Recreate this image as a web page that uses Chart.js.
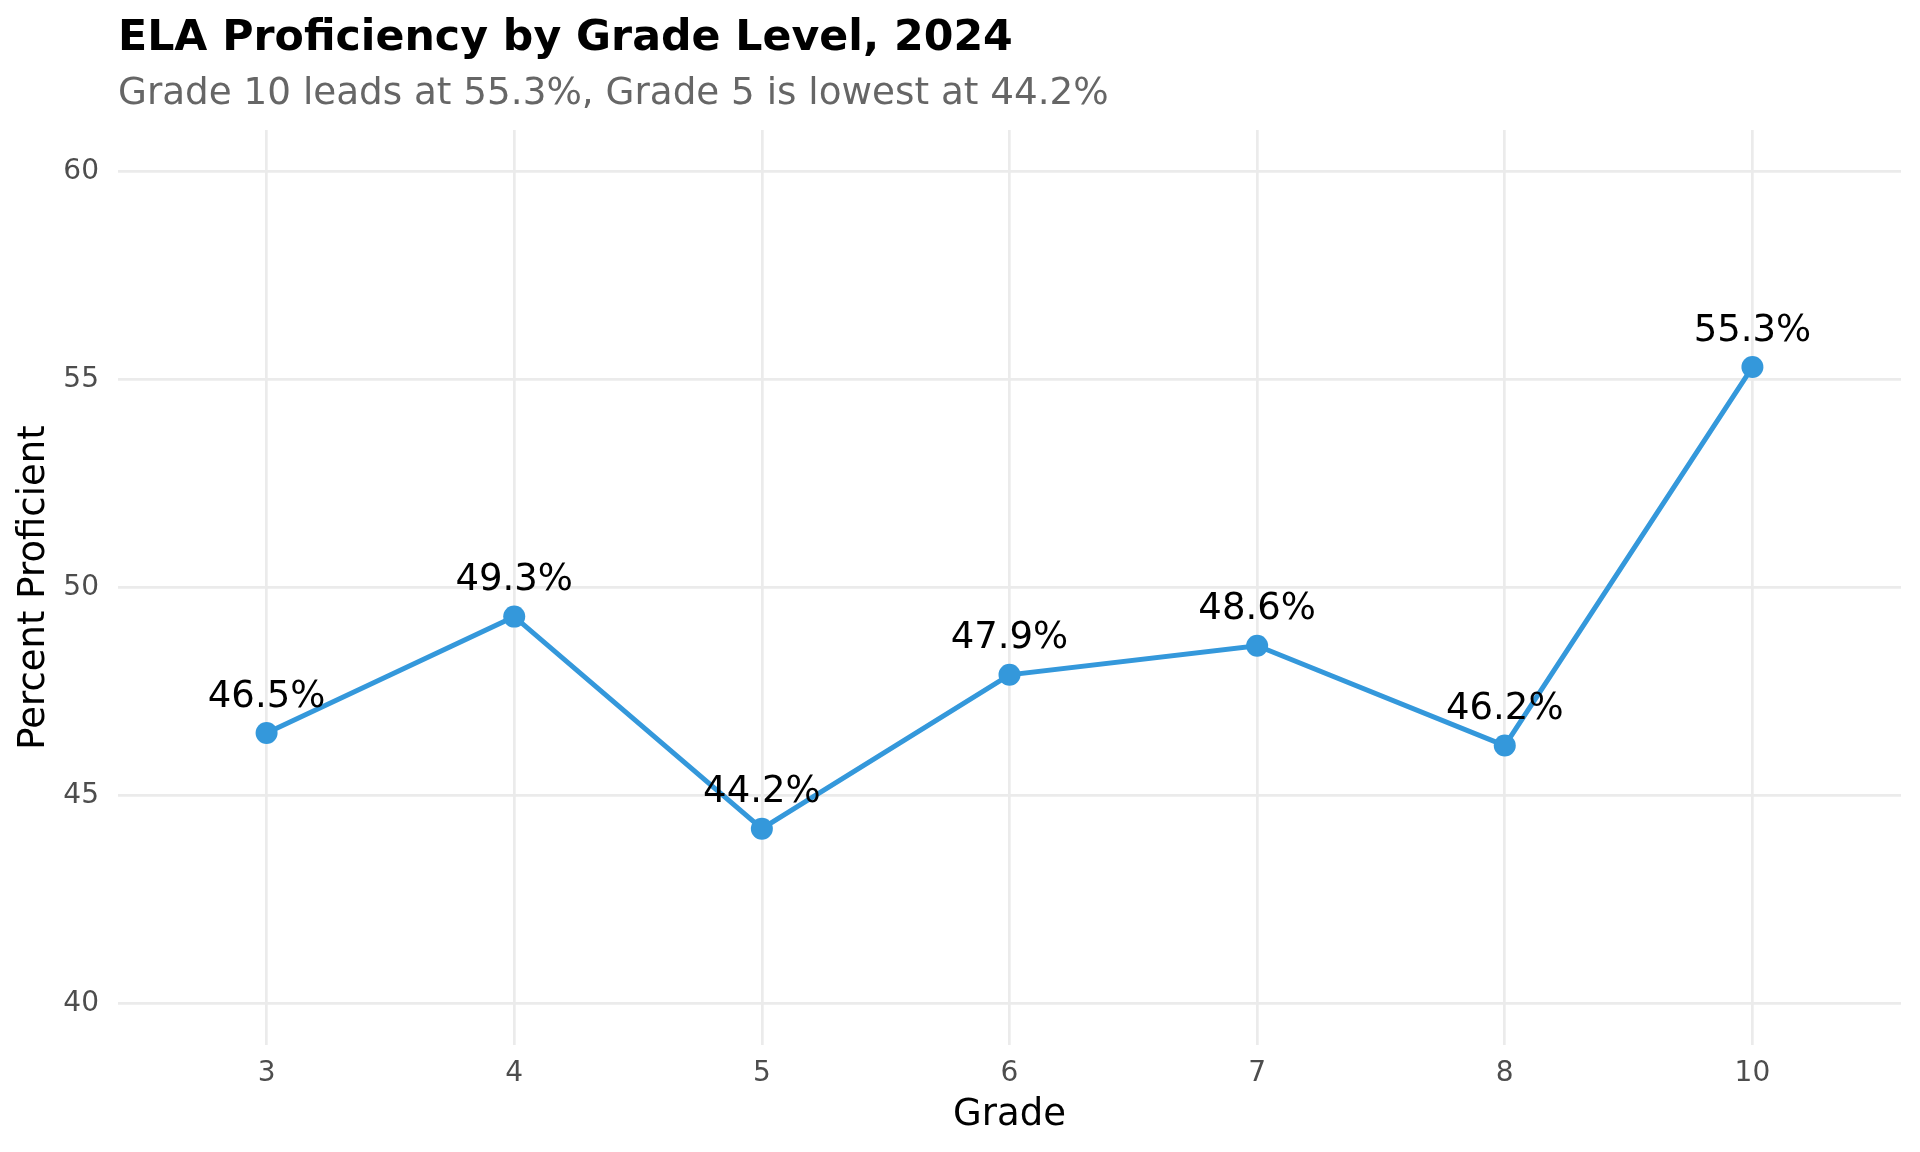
<!DOCTYPE html>
<html>
<head>
<meta charset="utf-8">
<title>ELA Proficiency by Grade Level, 2024</title>
<script src="https://cdn.jsdelivr.net/npm/chart.js@4.4.1/dist/chart.umd.min.js"></script>
<style>
  html, body { margin: 0; padding: 0; background: #ffffff; }
  #chart { display: block; }
</style>
</head>
<body>
<canvas id="chart" width="1920" height="1152"></canvas>
<script>
// data
var grades = ['3', '4', '5', '6', '7', '8', '10'];
var proficiency = [46.5, 49.3, 44.2, 47.9, 48.6, 46.2, 55.3];
var y_ticks = [40, 45, 50, 55, 60];

var font_family = "'DejaVu Sans', 'Liberation Sans', sans-serif";
var line_color = '#3498db';
var grid_color = '#ebebeb';

// points on a linear x scale so the side padding can be 0.6 of a step
var points = [];
for (var i in proficiency) {
    points.push({ x: Number(i), y: proficiency[i] });
}

// value labels above each point
var point_labels = {
    id: 'point_labels',
    afterDatasetsDraw: function (chart) {
        var ctx = chart.ctx;
        var meta = chart.getDatasetMeta(0);
        ctx.save();
        ctx.font = '37px ' + font_family;
        ctx.fillStyle = '#000000';
        ctx.textAlign = 'center';
        ctx.textBaseline = 'alphabetic';
        for (var i = 0; i < meta.data.length; i++) {
            var el = meta.data[i];
            ctx.fillText(proficiency[i].toFixed(1) + '%', el.x, el.y - 26.5);
        }
        ctx.restore();
    }
};

new Chart(document.getElementById('chart'), {
    type: 'line',
    data: {
        datasets: [{
            data: points,
            borderColor: line_color,
            backgroundColor: line_color,
            borderWidth: 5,
            pointRadius: 11,
            pointHoverRadius: 11,
            pointBorderWidth: 0,
            pointBackgroundColor: line_color,
            tension: 0,
            fill: false
        }]
    },
    options: {
        responsive: false,
        animation: false,
        devicePixelRatio: 1,
        layout: { padding: { left: 0, right: 19, top: 0, bottom: 0 } },
        plugins: {
            legend: { display: false },
            tooltip: { enabled: false },
            title: {
                display: true,
                text: 'ELA Proficiency by Grade Level, 2024',
                align: 'start',
                fullSize: false,
                color: '#000000',
                font: { family: font_family, size: 42.7, weight: 'bold', lineHeight: 1.2 },
                padding: { top: 13.5, bottom: 0 }
            },
            subtitle: {
                display: true,
                text: 'Grade 10 leads at 55.3%, Grade 5 is lowest at 44.2%',
                align: 'start',
                fullSize: false,
                color: '#666666',
                font: { family: font_family, size: 37.3, weight: 'normal', lineHeight: 1.2 },
                padding: { top: 7.5, bottom: 13 }
            }
        },
        scales: {
            x: {
                type: 'linear',
                min: -0.6,
                max: grades.length - 0.4,
                afterBuildTicks: function (scale) {
                    scale.ticks = grades.map(function (g, i) { return { value: i }; });
                },
                afterFit: function (scale) { scale.height = 107; },
                ticks: {
                    color: '#4d4d4d',
                    font: { family: font_family, size: 28, lineHeight: 1.2 },
                    padding: 11.5,
                    maxRotation: 0,
                    autoSkip: false,
                    callback: function (value) { return grades[value]; }
                },
                grid: { color: grid_color, lineWidth: 2.7, drawTicks: false },
                border: { display: false },
                title: {
                    display: true,
                    text: 'Grade',
                    color: '#000000',
                    font: { family: font_family, size: 37, lineHeight: 1.2 },
                    padding: { top: 0, bottom: 14 }
                }
            },
            y: {
                type: 'linear',
                min: 39,
                max: 61,
                afterBuildTicks: function (scale) {
                    scale.ticks = y_ticks.map(function (v) { return { value: v }; });
                },
                afterFit: function (scale) { scale.width = 118; },
                ticks: {
                    color: '#4d4d4d',
                    font: { family: font_family, size: 28, lineHeight: 1.2 },
                    padding: 19
                },
                grid: { color: grid_color, lineWidth: 2.7, drawTicks: false },
                border: { display: false },
                title: {
                    display: true,
                    text: 'Percent Proficient',
                    color: '#000000',
                    font: { family: font_family, size: 37, lineHeight: 1.2 },
                    padding: { top: 12, bottom: 0 }
                }
            }
        }
    },
    plugins: [point_labels]
});
</script>
</body>
</html>
